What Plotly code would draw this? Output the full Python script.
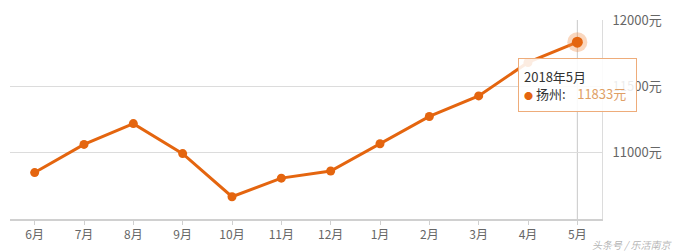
import plotly.graph_objects as go

months = ["6月", "7月", "8月", "9月", "10月", "11月", "12月", "1月", "2月", "3月", "4月", "5月"]
values = [10850, 11062, 11219, 10993, 10668, 10808, 10862, 11067, 11273, 11428, 11680, 11833]
y_ticks = [11000, 11500, 12000]
y_labels = ["11000元", "11500元", "12000元"]
city = "扬州"
hover_title = "2018年5月"

LINE = "#e4650f"
FONT = "Noto Sans CJK SC"

fig = go.Figure()
fig.add_trace(go.Scatter(
    x=months, y=values, mode="lines+markers",
    line=dict(color=LINE, width=3),
    marker=dict(color=LINE, size=9),
    cliponaxis=False, hoverinfo="skip", showlegend=False))
# hover halo on last point
fig.add_trace(go.Scatter(
    x=[months[-1]], y=[values[-1]], mode="markers",
    marker=dict(color="rgba(240,140,70,0.35)", size=20, line=dict(width=0)),
    cliponaxis=False, hoverinfo="skip", showlegend=False))
fig.add_trace(go.Scatter(
    x=[months[-1]], y=[values[-1]], mode="markers",
    marker=dict(color=LINE, size=11),
    cliponaxis=False, hoverinfo="skip", showlegend=False))

# axis pointer line
fig.add_shape(type="line", xref="x", yref="paper", x0=months[-1], x1=months[-1],
              y0=0, y1=1, line=dict(color="#c8c8c8", width=1), layer="below")

# tooltip
fig.add_annotation(
    x=months[-1], y=values[-1], xref="x", yref="y",
    xanchor="center", yanchor="top", yshift=-16, showarrow=False,
    align="left", width=107, height=42, borderpad=5,
    bgcolor="rgba(255,255,255,0.88)", bordercolor="#eeac7a", borderwidth=1,
    text=(f"<span style='color:#333'>{hover_title}</span><br>"
          f"<span style='color:{LINE};font-size:9px'>●</span><span style='color:#333'> {city}:</span>"
          f"<span style='color:#e0a066'>    {values[-1]}元</span>"),
    font=dict(family=FONT, size=13, color="#333"))

# watermark
fig.add_annotation(x=1, y=0, xref="paper", yref="paper", xanchor="right", yanchor="top",
                   xshift=72, yshift=-16, showarrow=False,
                   text="<i>头条号 / 乐活南京</i>",
                   font=dict(family=FONT, size=10, color="rgba(160,160,160,0.8)"))

fig.update_layout(
    width=675, height=252,
    margin=dict(l=10, r=73, t=19, b=32),
    paper_bgcolor="white", plot_bgcolor="white",
    font=dict(family=FONT, color="#666"),
    xaxis=dict(
        type="category", range=[-0.5, len(months) - 0.5],
        showgrid=False, showline=True, linecolor="#d0d0d0", linewidth=2,
        ticks="outside", ticklen=4, tickcolor="#d0d0d0", tickwidth=1,
        tickfont=dict(family=FONT, size=12, color="#666"),
        zeroline=False, fixedrange=True),
    yaxis=dict(
        range=[10500, 12000], side="right",
        tickvals=y_ticks, ticktext=y_labels,
        showgrid=True, gridcolor="#dcdcdc", gridwidth=1,
        showline=True, linecolor="#dcdcdc", linewidth=1, mirror=False,
        ticks="", ticklabelstandoff=7,
        tickfont=dict(family=FONT, size=13, color="#666"),
        zeroline=False, fixedrange=True),
)

fig.write_html("out.html")
